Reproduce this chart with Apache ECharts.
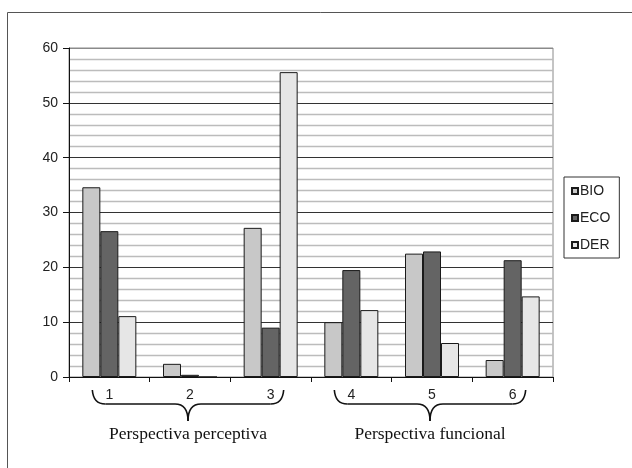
<!DOCTYPE html>
<html>
<head>
<meta charset="utf-8">
<script src="https://cdn.jsdelivr.net/npm/echarts@6/dist/echarts.min.js"></script>
<style>html,body{margin:0;padding:0;background:#fff;}#c{width:632px;height:468px;}</style>
</head>
<body>
<div id="c"></div>
<script>
const categories = ['1', '2', '3', '4', '5', '6'];
const seriesNames = ['BIO', 'ECO', 'DER'];
const bio = [34.6, 2.4, 27.2, 10.0, 22.5, 3.1];
const eco = [26.6, 0.4, 9.0, 19.5, 22.9, 21.3];
const der = [11.1, 0, 55.6, 12.2, 6.2, 14.7];
const groupLabels = ['Perspectiva perceptiva', 'Perspectiva funcional'];
const groupRanges = [[0, 2], [3, 5]];

const colors = ['#c8c8c8', '#646464', '#e6e6e6'];
const chart = echarts.init(document.getElementById('c'), null, {renderer: 'canvas'});

function barSeries(name, data, color) {
  return {
    name: name, type: 'bar', data: data, barWidth: 18, barGap: '0%',
    itemStyle: {color: color, borderColor: '#1a1a1a', borderWidth: 1},
    emphasis: {disabled: true}, animation: false
  };
}

chart.setOption({
  animation: false,
  grid: {left: 69, right: 79, top: 48, bottom: 91, show: true, borderColor: '#8a8a8a', borderWidth: 1, backgroundColor: 'transparent'},
  legend: {
    orient: 'vertical', left: 564, top: 177, data: seriesNames,
    icon: 'rect', itemWidth: 6, itemHeight: 6, itemGap: 13,
    padding: [7, 9, 6, 7], borderColor: '#333', borderWidth: 1,
    textStyle: {fontFamily: 'Liberation Sans, Arial', fontSize: 14, color: '#222', lineHeight: 14, padding: [0,0,0,-3]},
    selectedMode: false
  },
  xAxis: {
    type: 'category', data: categories,
    axisLine: {lineStyle: {color: '#111', width: 1}},
    axisTick: {show: true, length: 5, lineStyle: {color: '#111'}},
    axisLabel: {fontFamily: 'Liberation Sans, Arial', fontSize: 14, color: '#222', margin: 11},
    splitLine: {show: false}
  },
  yAxis: {
    type: 'value', min: 0, max: 60, interval: 10,
    axisLine: {show: true, lineStyle: {color: '#111', width: 1}},
    axisTick: {show: true, length: 6, lineStyle: {color: '#111'}},
    axisLabel: {fontFamily: 'Liberation Sans, Arial', fontSize: 14, color: '#222', margin: 11},
    splitLine: {show: true, lineStyle: {color: ['#333', '#333', '#333', '#333', '#333', '#333', '#8a8a8a'], width: 1.2}},
    minorTick: {show: false, splitNumber: 5},
    minorSplitLine: {show: true, lineStyle: {color: '#bcbcbc', width: 1.3}}
  },
  series: [barSeries('BIO', bio, colors[0]), barSeries('ECO', eco, colors[1]), barSeries('DER', der, colors[2])]
});

const braceStyle = {stroke: '#111', lineWidth: 1.6, fill: 'none'};
function curve(x1, y1, cx, cy, x2, y2) {
  return {type: 'bezierCurve', silent: true, shape: {x1: x1, y1: y1, x2: x2, y2: y2, cpx1: cx, cpy1: cy}, style: braceStyle};
}
function seg(x1, y1, x2, y2) {
  return {type: 'line', silent: true, shape: {x1: x1, y1: y1, x2: x2, y2: y2}, style: braceStyle};
}

const graphics = [{
  type: 'rect', silent: true, z: -10,
  shape: {x: 7.5, y: 12.5, width: 700, height: 500},
  style: {fill: 'none', stroke: '#555', lineWidth: 1}
}];
groupRanges.forEach(function (rg, i) {
  const xa = chart.convertToPixel({xAxisIndex: 0}, categories[rg[0]]);
  const xb = chart.convertToPixel({xAxisIndex: 0}, categories[rg[1]]);
  const x0 = xa - 17, x1 = xb + 13, xc = (x0 + x1) / 2;
  const yTop = 390, yMid = 404, yTip = 421, r = 13;
  graphics.push(curve(x0, yTop, x0 + 1, yMid, x0 + r, yMid));
  graphics.push(seg(x0 + r, yMid, xc - r, yMid));
  graphics.push(curve(xc - r, yMid, xc, yMid, xc, yTip));
  graphics.push(curve(xc, yTip, xc, yMid, xc + r, yMid));
  graphics.push(seg(xc + r, yMid, x1 - r, yMid));
  graphics.push(curve(x1 - r, yMid, x1 - 1, yMid, x1, yTop));
  graphics.push({
    type: 'text', silent: true,
    x: xc, y: 434,
    style: {text: groupLabels[i], fill: '#111', font: '17.5px "Liberation Serif", "Times New Roman", serif', textAlign: 'center', textVerticalAlign: 'middle'}
  });
});
chart.setOption({graphic: graphics});
</script>
</body>
</html>
